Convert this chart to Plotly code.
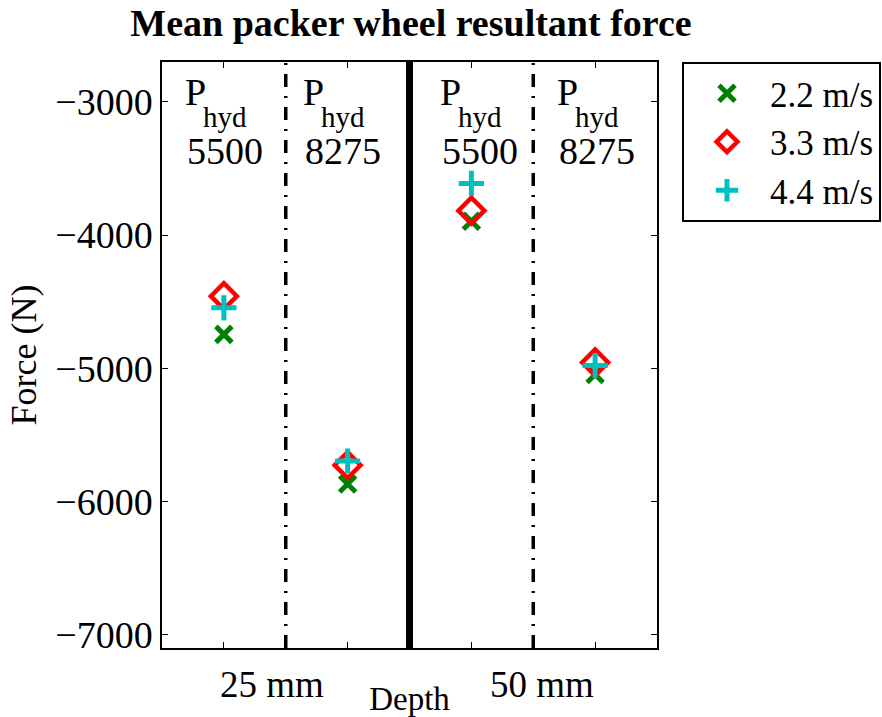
import plotly.graph_objects as go

depth_labels = ["25 mm", "50 mm"]
pressures = ["5500", "8275", "5500", "8275"]
positions = [0.5, 1.5, 2.5, 3.5]
speeds = ["2.2 m/s", "3.3 m/s", "4.4 m/s"]
force_22 = [-4745, -5868, -3896, -5047]
force_33 = [-4458, -5727, -3816, -4956]
force_44 = [-4546, -5696, -3612, -4979]

FONT = "Liberation Serif"
# pixel nudges of the P_hyd label blocks (layout only)
label_shift = [-39, -45, -31, -38]

fig = go.Figure()
styles = [
    dict(symbol="x-thin", size=16, color="#008000", line=dict(width=5, color="#008000")),
    dict(symbol="diamond-open", size=20, color="#FF0000", line=dict(width=4.5, color="#FF0000")),
    dict(symbol="cross-thin", size=18, color="#00BFBF", line=dict(width=5, color="#00BFBF")),
]
for name, vals, st in zip(speeds, [force_22, force_33, force_44], styles):
    fig.add_trace(go.Scatter(x=positions, y=vals, mode="markers", name=name, marker=st))

# separators
for xv, w, d in [(1, 3.5, "13px,9px,2px,9px"), (2, 7, "solid"), (3, 3.5, "13px,9px,2px,9px")]:
    fig.add_shape(type="line", xref="x", yref="paper", x0=xv, x1=xv, y0=0, y1=1,
                  line=dict(color="black", width=w, dash=d))

for p, pr, sh in zip(positions, pressures, label_shift):
    fig.add_annotation(x=p, xref="x", y=0.948, yref="paper", yanchor="middle", xanchor="left",
                       xshift=sh - 2, text="P", showarrow=False,
                       font=dict(family=FONT, size=38, color="black"))
    fig.add_annotation(x=p, xref="x", y=0.906, yref="paper", yanchor="middle", xanchor="left",
                       xshift=sh + 16, text="hyd", showarrow=False,
                       font=dict(family=FONT, size=29, color="black"))
    fig.add_annotation(x=p, xref="x", y=0.848, yref="paper", yanchor="middle", xanchor="left",
                       xshift=sh, text=pr, showarrow=False,
                       font=dict(family=FONT, size=38, color="black"))

for xv, lab in zip([0.89, 3.07], depth_labels):
    fig.add_annotation(x=xv, xref="x", y=-0.063, yref="paper", yanchor="middle",
                       text=lab, showarrow=False, font=dict(family=FONT, size=37, color="black"))

fig.update_layout(
    width=882, height=717,
    margin=dict(l=162, r=225, t=62, b=69, autoexpand=False),
    paper_bgcolor="white", plot_bgcolor="white",
    title=dict(text="<b>Mean packer wheel resultant force</b>", x=0.466, xanchor="center",
               y=0.969, yanchor="middle", font=dict(family=FONT, size=38, color="black")),
    font=dict(family=FONT, color="black"),
    legend=dict(x=1.0505, y=1.0, xanchor="left", yanchor="top",
                bordercolor="black", borderwidth=2, bgcolor="white",
                font=dict(family=FONT, size=35, color="black"), itemsizing="trace",
                itemwidth=76, tracegroupgap=0),
    showlegend=True,
)
fig.update_xaxes(range=[0, 4], tickvals=positions, ticktext=["", "", "", ""],
                 ticks="inside", ticklen=6, tickcolor="black", mirror="ticks",
                 showline=True, linecolor="black", linewidth=1.5, showgrid=False,
                 zeroline=False,
                 title=dict(text="Depth", font=dict(family=FONT, size=33, color="black"), standoff=36))
fig.update_yaxes(range=[-7100, -2700], tickvals=[-7000, -6000, -5000, -4000, -3000],
                 ticktext=["\u22127000", "\u22126000", "\u22125000", "\u22124000", "\u22123000"],
                 ticks="inside", ticklen=6, tickcolor="black", mirror="ticks",
                 showline=True, linecolor="black", linewidth=1.5, showgrid=False,
                 zeroline=False, tickfont=dict(family=FONT, size=38, color="black"),
                 title=dict(text="Force (N)", font=dict(family=FONT, size=36, color="black"), standoff=8))

fig.write_html("out.html")
